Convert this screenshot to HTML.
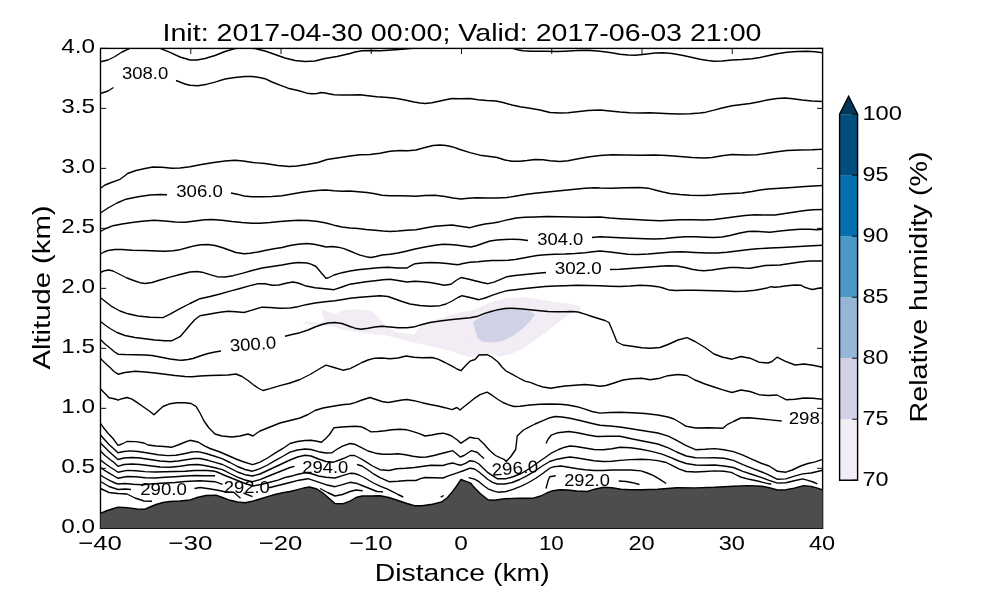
<!DOCTYPE html>
<html><head><meta charset="utf-8"><title>Init: 2017-04-30 00:00; Valid: 2017-06-03 21:00</title>
<style>html,body{margin:0;padding:0;background:#fff;}svg{display:block;will-change:transform;}text{font-family:"Liberation Sans", sans-serif;fill:#000;}</style>
</head><body>
<svg width="1000" height="600" viewBox="0 0 1000 600">
<rect x="0" y="0" width="1000" height="600" fill="#ffffff"/>
<defs><clipPath id="ax"><rect x="100.5" y="48.4" width="722.1" height="479.9"/></clipPath></defs>
<g clip-path="url(#ax)">
<polygon points="321.2,308.9 328.4,311.6 334.8,314.0 342.8,310.5 354.0,308.9 365.2,310.0 373.0,312.0 378.0,317.0 383.0,322.5 387.0,326.5 390.0,329.0 398.0,332.5 410.0,334.0 415.5,334.0 417.0,330.0 420.0,327.0 426.0,322.5 440.0,318.5 455.0,314.0 460.0,312.0 470.0,311.0 478.0,308.0 490.0,302.5 505.0,298.2 525.0,297.0 540.0,299.5 555.0,302.0 570.0,303.7 580.0,306.2 581.0,309.5 570.0,313.7 560.0,321.2 547.5,331.2 535.0,340.0 522.5,348.7 510.0,354.5 500.0,356.2 490.0,354.5 480.0,355.5 470.0,357.0 460.0,354.5 450.0,350.8 438.8,347.9 426.0,345.2 411.6,342.0 398.8,338.8 386.0,335.6 370.0,334.0 357.2,331.9 342.8,329.7 331.6,326.0 324.4,321.2 322.8,315.6" fill="#f2ecf5"/>
<polygon points="301.0,324.0 308.0,321.5 318.0,323.0 324.5,321.2 331.6,326.0 322.0,325.5 310.0,324.5" fill="#f2ecf5"/>
<polygon points="473.0,322.0 480.0,317.5 485.0,313.7 495.0,310.5 505.0,308.7 520.0,309.5 530.0,311.2 535.0,314.2 530.0,321.2 522.5,328.7 512.5,336.2 502.5,340.7 492.5,342.5 482.5,341.7 478.0,338.7 475.0,330.0" fill="#d0d1e6"/>
<circle cx="470" cy="336.7" r="0.6" fill="#d0d1e6"/>
<g fill="none" stroke="#000" stroke-width="1.39" stroke-linejoin="round" stroke-linecap="butt">
<polyline points="100.5,61.7 108.0,60.0 115.0,56.5 122.0,52.0 130.0,48.3 145.0,44.0 160.0,48.3 170.0,52.3 180.0,57.0 190.0,60.0 197.0,60.0 205.0,58.5 215.0,55.5 225.0,51.5 235.0,48.5 245.0,47.8 255.0,48.5 265.0,51.0 275.0,54.5 285.0,58.0 295.0,60.5 305.0,61.5 315.0,61.0 325.0,58.5 337.0,56.5 350.0,53.5 355.0,52.0 362.0,50.7 372.0,50.5 380.0,50.7 392.0,50.0 402.0,49.2 410.0,48.5 415.0,48.0 460.0,45.0 512.5,48.3 517.0,49.7 523.0,50.7 532.0,51.2 545.0,51.2 557.0,51.5 565.0,51.2 577.0,50.5 588.0,50.2 600.0,51.2 610.0,52.5 620.0,54.2 628.0,55.0 635.0,55.2 645.0,54.2 655.0,53.0 663.0,52.7 672.0,53.5 682.0,55.2 690.0,57.0 700.0,59.2 708.0,60.5 714.0,61.2 722.0,61.0 732.0,60.0 742.0,59.5 752.0,58.7 760.0,57.5 768.0,55.7 777.0,53.7 787.0,52.2 797.0,51.5 807.0,51.2 815.0,51.7 822.5,52.7"/>
<polyline points="100.5,93.5 108.0,91.0 113.5,87.5"/>
<polyline points="176.0,80.5 185.0,84.0 190.0,85.2 198.0,85.7 207.0,84.2 215.0,82.2 225.0,79.0 235.0,77.5 245.0,76.5 252.0,76.5 258.0,77.2 265.0,78.7 272.0,82.0 280.0,85.2 288.0,88.2 298.0,90.5 307.0,93.2 312.0,93.7 317.0,93.5 321.0,92.5 325.0,93.0 334.0,94.7 342.0,95.0 350.0,95.0 360.0,94.7 368.0,95.7 377.0,96.7 388.0,97.5 397.0,98.5 405.0,100.0 414.0,102.0 420.0,103.0 425.0,103.5 432.0,102.7 440.0,101.0 447.0,99.5 452.0,98.5 460.0,98.7 470.0,98.5 478.0,99.7 487.0,100.5 496.0,101.0 503.0,102.5 512.0,105.0 520.0,106.7 530.0,108.2 540.0,110.0 550.0,112.5 560.0,113.0 568.0,112.7 577.0,111.7 588.0,110.5 600.0,110.0 610.0,111.0 620.0,112.0 630.0,112.7 640.0,113.0 650.0,112.7 660.0,113.2 670.0,113.7 680.0,114.0 690.0,113.7 700.0,113.0 706.0,112.2 714.0,110.2 722.0,108.0 732.0,105.7 742.0,104.5 750.0,103.5 758.0,102.0 767.0,100.0 777.0,98.5 785.0,98.0 793.0,98.7 802.0,100.0 812.0,101.0 822.5,101.5"/>
<polyline points="100.5,188.3 105.0,185.0 110.0,183.0 120.0,179.3 124.5,176.0 127.5,173.5 136.0,170.5 145.0,168.5 153.0,167.0 162.0,167.2 172.0,168.2 180.0,168.0 190.0,166.7 200.0,164.7 212.0,162.7 225.0,161.0 235.0,160.2 243.0,161.0 253.0,162.5 265.0,163.5 278.0,165.5 289.0,166.5 297.0,166.0 307.0,164.5 318.0,162.5 327.0,159.5 337.0,158.0 350.0,156.0 360.0,154.7 370.0,154.5 380.0,153.2 390.0,151.2 400.0,150.5 408.0,150.7 416.0,150.0 425.0,147.5 433.0,145.5 440.0,145.0 446.0,145.5 452.0,146.7 460.0,149.5 470.0,152.7 480.0,155.2 490.0,156.5 497.0,157.5 505.0,160.0 512.0,161.2 520.0,161.2 527.0,160.5 535.0,159.5 543.0,159.7 550.0,160.7 560.0,161.5 568.0,160.7 577.0,159.0 588.0,157.0 600.0,155.5 612.0,154.7 625.0,155.0 640.0,155.2 655.0,155.0 667.0,155.5 680.0,156.5 692.0,157.5 704.0,158.0 712.0,157.5 722.0,155.7 732.0,154.5 745.0,155.0 757.0,154.7 767.0,153.2 777.0,151.7 787.0,150.5 800.0,150.0 812.0,149.7 822.5,149.2"/>
<polyline points="100.5,213.0 108.0,208.0 117.0,203.0 126.0,199.2 138.0,196.7 150.0,195.0 160.0,194.5 167.0,194.7"/>
<polyline points="231.0,193.0 237.0,194.2 244.0,196.0 252.0,196.7 262.0,196.7 272.0,196.5 282.0,195.7 292.0,194.0 302.0,192.2 312.0,191.0 320.0,190.2 326.0,190.0 334.0,190.7 342.0,191.2 350.0,191.0 358.0,191.7 367.0,192.5 375.0,193.7 382.0,195.2 390.0,195.7 400.0,195.7 410.0,196.0 416.0,196.2 425.0,195.5 435.0,195.2 445.0,196.5 453.0,198.0 461.0,199.0 468.0,198.2 477.0,197.7 487.0,198.0 497.0,198.0 507.0,197.5 515.0,196.2 525.0,194.5 535.0,193.2 545.0,192.2 555.0,191.2 565.0,190.2 575.0,189.2 585.0,188.2 595.0,187.7 600.0,188.0 612.0,188.2 625.0,187.7 640.0,187.5 648.0,188.2 655.0,190.0 663.0,192.0 670.0,193.5 680.0,194.5 690.0,195.2 704.0,195.5 712.0,195.0 722.0,194.0 732.0,193.5 742.0,193.0 752.0,191.5 760.0,190.0 768.0,189.0 780.0,188.2 792.0,187.5 805.0,186.5 822.5,185.5"/>
<polyline points="100.5,231.5 106.0,228.5 113.0,225.7 122.0,224.0 132.0,222.5 142.0,221.2 154.0,220.2 165.0,221.0 175.0,222.0 185.0,222.2 195.0,221.0 205.0,219.7 212.0,219.5 222.0,220.2 232.0,221.5 242.0,222.5 252.0,223.2 260.0,223.2 270.0,222.5 280.0,221.5 290.0,220.7 298.0,220.2 308.0,220.5 318.0,221.5 326.0,223.0 334.0,225.2 342.0,227.0 350.0,228.0 358.0,228.5 366.0,229.5 375.0,230.2 383.0,231.0 390.0,231.5 398.0,231.0 407.0,230.2 416.0,229.7 425.0,228.0 435.0,226.2 445.0,225.5 452.0,225.0 460.0,226.2 470.0,227.7 478.0,225.5 485.0,224.0 493.0,223.0 500.0,221.7 508.0,219.7 516.0,218.0 525.0,217.2 535.0,217.0 547.0,216.5 560.0,216.7 572.0,217.0 585.0,217.2 600.0,217.0 610.0,218.0 620.0,218.7 635.0,219.5 648.0,220.2 660.0,220.7 670.0,220.2 680.0,219.7 692.0,219.7 704.0,220.0 714.0,219.5 724.0,218.2 735.0,216.7 745.0,215.5 755.0,214.7 765.0,215.0 775.0,215.0 785.0,213.5 795.0,212.0 805.0,210.5 813.0,209.7 822.5,209.5"/>
<polyline points="100.5,254.0 104.0,252.0 108.0,250.5 115.0,249.5 122.0,249.5 132.0,250.2 145.0,250.5 157.0,251.0 165.0,251.2 173.0,250.7 180.0,249.7 188.0,247.5 195.0,245.7 201.0,244.7 208.0,244.5 215.0,245.5 222.0,247.5 229.0,250.0 236.0,252.5 244.0,253.7 250.0,253.2 258.0,252.0 266.0,250.2 274.0,248.7 282.0,247.5 290.0,245.5 298.0,244.2 307.0,243.5 314.0,244.2 320.0,245.5 326.0,247.0 332.0,246.5 338.0,247.2 344.0,248.7 350.0,251.0 355.0,253.2 360.0,255.2 366.0,256.7 371.0,257.5 376.0,256.5 382.0,255.0 390.0,254.2 398.0,253.0 406.0,251.2 415.0,249.0 425.0,247.0 435.0,245.2 443.0,244.2 450.0,244.5 458.0,245.2 465.0,246.2 471.0,247.0 477.0,245.5 484.0,243.0 490.0,241.0 497.0,240.0 505.0,239.5 513.0,239.2 520.0,239.5 528.0,240.5"/>
<polyline points="592.0,237.5 600.0,236.7 610.0,237.2 620.0,237.7 632.0,238.2 645.0,238.7 655.0,239.0 665.0,238.5 675.0,237.5 685.0,236.7 695.0,236.7 705.0,237.2 714.0,237.5 722.0,237.0 730.0,235.5 740.0,233.0 748.0,231.5 755.0,231.2 762.0,231.7 770.0,232.2 780.0,231.0 790.0,230.0 800.0,229.2 810.0,229.2 817.0,229.7 822.5,229.2"/>
<polyline points="100.5,272.5 104.5,270.7 109.0,270.0 113.0,271.0 120.0,274.5 127.0,278.0 135.0,281.0 140.0,282.7 145.0,283.5 152.0,282.5 160.0,280.0 170.0,277.2 180.0,274.5 190.0,272.0 197.0,271.5 202.0,272.2 210.0,274.7 217.0,276.7 225.0,277.0 233.0,275.7 243.0,273.2 252.0,270.5 262.0,268.0 272.0,266.5 282.0,265.0 290.0,263.5 298.0,262.5 307.0,263.0 311.0,264.2 316.0,266.5 321.0,272.5 326.0,278.2 328.0,278.0 334.0,275.0 342.0,272.7 350.0,271.0 358.0,269.7 368.0,268.7 378.0,267.7 388.0,267.2 398.0,268.0 407.0,268.0 411.0,265.7 415.0,263.7 422.0,263.0 430.0,262.5 438.0,262.7 447.0,263.5 453.0,264.2 458.0,264.7 463.0,263.5 470.0,262.2 478.0,261.7 485.0,261.0 492.0,260.5 500.0,260.5 508.0,260.2 515.0,259.5 522.0,258.2 530.0,256.7 537.0,255.5 545.0,254.7 555.0,254.2 565.0,254.0 575.0,253.5 585.0,252.7 593.0,251.7 600.0,251.0 610.0,252.0 620.0,253.2 628.0,254.2 638.0,254.5 648.0,254.0 660.0,253.0 672.0,252.0 682.0,251.7 695.0,252.5 707.0,253.0 717.0,253.0 727.0,252.2 737.0,251.0 747.0,249.7 757.0,248.7 770.0,248.0 782.0,247.5 795.0,246.7 808.0,246.0 822.5,245.2"/>
<polyline points="100.5,297.7 105.0,301.2 112.0,306.7 120.0,311.0 128.0,313.8 138.0,316.0 150.0,317.3 163.0,317.6 170.0,314.2 180.0,308.7 190.0,303.5 200.0,298.7 210.0,296.5 220.0,294.0 230.0,291.2 240.0,288.5 250.0,285.7 258.0,283.7 265.0,283.7 272.0,285.2 279.0,285.0 287.0,283.0 293.0,282.0 298.0,283.0 305.0,285.7 315.0,287.7 325.0,288.7 334.0,289.7 342.0,287.0 350.0,284.2 358.0,283.0 366.0,281.7 375.0,280.7 383.0,279.7 390.0,279.2 398.0,280.5 407.0,282.0 415.0,281.2 423.0,281.7 430.0,282.5 437.0,283.7 444.0,285.2 451.0,284.2 456.0,280.5 461.0,277.5 468.0,279.0 475.0,280.7 482.0,282.5 488.0,283.7 494.0,282.2 500.0,279.7 507.0,276.7 515.0,275.5 525.0,274.5 535.0,273.5 546.0,272.5"/>
<polyline points="610.0,269.5 620.0,269.2 630.0,268.5 640.0,267.7 650.0,267.0 660.0,266.2 668.0,265.7 677.0,266.0 685.0,267.5 692.0,269.2 698.0,270.2 704.0,270.7 712.0,270.0 720.0,268.7 730.0,267.5 737.0,267.5 744.0,268.0 750.0,268.2 757.0,267.0 765.0,265.5 773.0,265.2 780.0,265.0 790.0,263.5 800.0,262.0 810.0,261.0 822.5,261.0"/>
<polyline points="100.5,321.5 105.0,325.0 110.0,328.5 117.0,332.5 125.0,335.5 135.0,337.5 145.0,338.7 155.0,340.0 165.0,340.7 172.0,340.7 180.0,336.7 185.0,331.0 190.0,325.0 195.0,319.5 200.0,315.7 210.0,314.0 220.0,312.2 228.0,311.2 236.0,311.7 244.0,312.5 252.0,310.2 262.0,307.2 270.0,307.5 280.0,308.2 290.0,308.0 298.0,306.7 306.0,304.7 315.0,303.0 325.0,301.7 335.0,300.7 343.0,299.5 350.0,298.3 360.0,297.2 370.0,296.5 380.0,295.7 388.0,296.5 395.0,299.0 402.0,301.5 410.0,304.0 420.0,305.5 430.0,306.2 440.0,305.7 446.0,304.0 452.0,301.0 458.0,297.5 462.0,295.7 468.0,297.0 474.0,298.5 479.0,299.7 485.0,298.0 492.0,295.3 500.0,292.6 507.0,290.7 515.0,289.7 525.0,288.5 535.0,287.5 545.0,286.5 555.0,286.0 565.0,285.7 577.0,285.2 588.0,285.5 600.0,285.7 610.0,286.2 620.0,286.5 630.0,286.0 640.0,285.2 650.0,285.7 658.0,286.7 663.0,288.0 668.0,289.7 675.0,290.5 685.0,290.2 695.0,290.2 705.0,290.5 715.0,290.7 725.0,291.0 735.0,291.5 745.0,291.2 755.0,290.2 762.0,289.0 768.0,287.7 771.0,286.7 775.0,287.2 780.0,286.7 787.0,285.7 795.0,285.0 801.0,285.2 804.0,287.0 809.0,288.7 813.0,289.5 817.0,288.5 822.5,287.7"/>
<polyline points="100.5,339.5 105.0,344.0 110.0,348.0 114.0,351.5 118.0,354.2 125.0,354.5 135.0,354.7 145.0,355.0 152.0,355.5 160.0,357.0 170.0,359.0 178.0,360.0 182.0,360.2 188.0,359.5 193.0,358.5 200.0,356.0 208.0,353.5 215.0,352.0 221.0,351.0"/>
<polyline points="285.0,336.2 292.0,334.5 300.0,332.7 308.0,330.0 315.0,327.0 322.0,324.5 328.0,323.0 335.0,322.5 342.0,323.5 350.0,326.5 355.0,328.2 361.0,329.2 368.0,328.2 375.0,327.0 382.0,326.2 390.0,327.0 398.0,327.7 407.0,327.7 415.0,326.7 422.0,324.5 430.0,322.5 440.0,321.0 450.0,319.7 460.0,318.7 470.0,317.7 478.0,316.2 484.0,313.7 491.0,311.5 498.0,309.7 505.0,308.5 512.0,308.2 520.0,308.7 530.0,309.7 540.0,310.7 548.0,311.5 555.0,311.7 565.0,311.7 572.0,311.5 578.0,312.0 585.0,314.2 592.0,316.5 600.0,319.0 605.0,320.5 609.0,322.5 613.0,332.0 617.0,342.0 623.0,345.0 632.0,346.2 642.0,347.7 650.0,348.2 660.0,347.5 668.0,344.5 678.0,340.0 687.0,337.7 695.0,341.5 705.0,347.5 714.0,354.0 722.0,357.0 732.0,359.2 741.0,356.5 750.0,358.2 759.0,362.2 768.0,363.0 772.0,361.5 777.0,357.2 785.0,361.2 795.0,365.0 804.0,364.0 813.0,365.2 822.5,367.2"/>
<polyline points="100.5,358.5 105.0,363.0 110.0,367.5 114.0,371.5 118.0,374.2 125.0,372.5 135.0,371.2 145.0,372.0 155.0,373.0 165.0,374.2 175.0,375.5 185.0,376.5 192.0,376.7 200.0,376.0 210.0,375.5 220.0,375.2 228.0,375.0 236.0,374.0 242.0,376.5 248.0,380.5 253.0,384.5 258.0,388.0 263.0,390.5 270.0,388.7 280.0,385.7 290.0,383.0 300.0,379.5 310.0,374.5 320.0,368.5 326.0,365.2 334.0,367.5 343.0,370.2 350.0,368.6 355.0,366.2 362.0,362.5 368.0,360.0 375.0,358.2 382.0,358.0 390.0,358.7 398.0,358.0 406.0,356.0 414.0,357.2 422.0,357.7 432.0,357.5 438.0,359.2 445.0,362.5 452.0,366.2 457.0,369.0 461.0,370.7 465.0,366.2 470.0,361.2 475.0,359.5 479.0,355.0 487.0,354.7 492.0,357.2 498.0,362.0 502.0,367.0 506.0,371.0 512.0,374.2 518.0,377.5 525.0,381.2 531.0,382.7 537.0,385.2 543.0,387.0 551.0,388.2 558.0,387.0 565.0,386.0 575.0,385.2 585.0,384.5 593.0,385.2 600.0,386.3 606.0,385.5 614.0,383.0 623.0,380.0 632.0,378.7 642.0,378.2 650.0,379.7 660.0,378.2 668.0,375.7 678.0,374.5 687.0,375.5 695.0,380.0 705.0,384.0 714.0,387.0 722.0,389.7 732.0,392.5 741.0,390.0 750.0,391.5 759.0,394.7 768.0,395.5 777.0,395.0 780.0,396.5 786.0,399.7 795.0,399.2 804.0,398.0 813.0,398.2 822.5,399.2"/>
<polyline points="100.5,389.0 104.0,392.5 109.0,397.7 113.0,398.5 116.0,399.2 118.0,400.2 122.0,398.7 127.0,397.5 132.0,399.2 138.0,403.2 145.0,408.0 150.0,411.5 154.0,414.7 158.0,411.0 163.0,406.5 170.0,403.7 177.0,402.7 185.0,402.7 191.0,403.5 196.0,406.4 200.0,413.0 204.0,421.0 209.0,428.0 215.0,434.0 222.0,436.0 232.0,437.0 240.0,436.0 248.0,434.0 253.0,436.0 257.0,433.0 260.0,431.0 270.0,427.0 280.0,423.0 290.0,420.5 300.0,418.0 308.0,414.5 315.0,410.5 323.0,408.0 333.0,406.2 342.0,404.7 350.0,404.0 355.0,402.7 362.0,400.0 370.0,397.5 376.0,399.5 382.0,401.5 388.0,402.5 395.0,401.2 402.0,400.0 407.0,399.5 414.0,400.7 422.0,402.7 430.0,404.5 438.0,406.0 445.0,407.7 452.0,409.7 457.0,407.5 460.0,410.0 463.0,407.5 468.0,403.5 474.0,398.7 480.0,394.7 487.0,392.2 492.0,395.2 498.0,399.5 503.0,402.5 508.0,404.7 514.0,406.5 520.0,406.2 530.0,405.0 540.0,404.2 550.0,404.0 560.0,404.2 568.0,405.0 577.0,406.7 585.0,409.2 592.0,411.5 600.0,413.1 610.0,412.5 620.0,412.2 632.0,412.7 645.0,413.5 657.8,415.0 668.0,417.0 674.0,419.0 680.0,422.5 686.2,426.3 695.6,428.0 709.3,427.7 722.9,428.3 727.1,424.7 733.4,421.5 740.7,418.0 749.1,417.7 759.6,418.8 770.1,419.9 781.7,421.0"/>
<polyline points="100.5,423.3 104.0,428.3 108.0,433.3 113.0,438.5 118.0,445.3 122.0,444.0 127.0,441.5 136.0,441.6 144.0,443.0 148.0,445.0 156.0,446.0 164.0,446.5 172.0,447.2 178.0,445.0 184.0,442.5 190.0,440.3 198.0,442.0 204.0,445.7 210.0,448.5 220.0,452.0 228.0,455.5 236.0,459.0 244.0,462.0 252.5,464.7 260.0,462.2 267.5,458.0 275.0,453.2 282.5,448.7 290.0,443.5 297.5,441.5 305.0,440.5 311.0,440.2 317.0,441.2 321.5,442.3 326.0,438.2 329.5,434.5 334.0,427.7 342.0,427.0 350.0,426.5 355.0,426.2 361.0,426.7 366.0,429.0 371.0,431.9 378.0,431.5 385.0,430.7 392.0,429.7 400.0,429.2 407.0,429.8 414.0,431.8 420.0,433.9 425.0,436.0 432.0,435.0 438.0,433.8 443.0,433.2 448.0,434.5 452.0,436.2 458.0,440.5 461.0,443.2 465.5,440.2 470.0,437.2 474.5,438.2 478.2,438.4 483.5,443.5 489.5,450.2 495.5,455.5 500.0,457.7 504.0,459.3 506.2,461.5 510.5,457.0 515.7,449.5 517.2,436.0 520.5,432.7 523.5,430.0 528.0,427.7 535.0,424.0 543.0,420.7 550.0,417.7 555.0,416.5 562.0,417.0 570.0,418.2 580.0,420.5 590.0,423.0 600.0,425.3 610.0,426.0 620.0,427.0 632.6,429.0 645.2,431.0 657.8,433.0 668.3,436.2 676.7,440.4 686.2,445.7 695.6,449.7 705.0,449.3 714.5,448.6 724.0,449.7 733.4,451.6 742.9,455.1 752.3,459.3 761.8,463.5 769.1,466.0 777.5,471.3 785.9,472.2 792.2,470.0 800.6,466.0 807.9,463.5 815.3,461.9 822.5,459.3"/>
<polyline points="100.5,435.0 104.0,439.0 109.0,444.5 114.0,449.0 118.0,452.8 124.0,451.5 130.0,450.9 138.0,451.5 148.0,453.0 158.0,454.7 168.0,455.6 176.0,455.3 184.0,453.7 192.0,452.0 198.0,451.6 206.0,453.5 214.0,456.0 222.0,458.7 230.0,462.5 237.5,466.5 245.0,469.5 252.5,471.2 260.0,468.7 267.5,465.0 275.0,460.7 282.5,456.5 290.0,452.2 297.5,450.0 305.0,449.0 311.0,449.5 318.5,451.7 326.0,453.0 332.0,452.8 336.5,449.5 342.5,446.2 350.0,443.5 354.5,444.2 360.5,447.2 368.0,451.0 375.5,453.2 383.0,454.3 390.5,454.3 398.0,453.7 405.5,454.7 413.0,456.2 420.5,457.3 426.5,457.0 434.0,455.5 441.5,453.5 447.5,452.0 452.7,450.7 456.5,453.7 460.2,457.0 464.0,455.5 468.5,452.5 471.5,450.7 477.5,452.5 480.5,455.5 484.2,458.5"/>
<polyline points="546.0,443.5 548.2,439.0 551.2,435.2 558.0,432.7 568.5,431.5 577.5,432.7 588.0,435.0 597.0,436.5 609.0,436.3 620.0,436.2 632.6,439.0 645.2,441.5 657.8,444.0 668.3,447.8 676.7,452.0 686.2,456.0 695.6,457.7 705.0,457.9 714.5,457.7 724.0,458.3 733.4,460.4 742.9,464.6 752.3,468.4 761.8,472.0 769.1,475.1 777.5,479.3 785.9,478.9 794.3,476.2 802.7,473.9 811.1,473.0 817.4,471.5 822.5,470.3"/>
<polyline points="100.5,443.0 104.0,446.5 109.0,451.5 114.0,456.0 118.0,459.5 124.0,458.0 132.0,457.5 140.0,458.0 150.0,459.5 160.0,461.0 170.0,461.8 178.0,461.0 186.0,459.7 194.0,458.5 200.0,458.5 208.0,460.3 216.0,462.7 222.5,464.5 230.0,468.2 237.5,472.0 245.0,474.7 252.5,476.0 260.0,474.0 267.5,470.5 275.0,467.0 282.5,463.5 290.0,460.0 297.5,457.0 305.0,455.2 311.0,456.0 318.5,459.0 326.0,461.5 333.5,462.2 339.5,460.0 345.5,457.7 350.0,455.5 354.5,455.5 360.5,458.5 366.5,462.2 372.5,466.0 380.0,469.7 389.0,470.5 396.5,468.7 405.5,468.2 414.5,467.5 423.5,466.3 431.0,465.2 443.0,465.5 449.0,463.7 452.7,463.0 456.5,464.2 461.0,465.2 465.5,463.3 470.0,460.7 474.5,461.5 479.0,464.0 483.0,468.0 488.0,472.7 492.5,475.7 497.2,478.7 506.2,478.7 513.7,476.5 521.2,473.5 528.7,469.0 536.2,463.7 543.7,458.5 551.2,453.2 558.7,449.5 564.7,447.2 570.0,446.0 576.0,446.5 585.0,448.0 594.0,449.5 603.0,449.8 612.0,448.7 620.0,447.2 630.5,447.8 641.0,449.3 651.5,451.4 662.0,454.1 670.4,457.3 678.8,461.0 686.2,463.5 695.6,465.0 705.0,465.2 714.5,465.0 724.0,466.0 733.4,467.5 742.9,471.3 752.3,474.5 761.8,477.6 769.1,480.3 777.5,483.1 785.9,482.7 794.3,480.8 802.7,478.9 807.9,480.3 813.2,482.0 817.4,483.9"/>
<polyline points="100.5,451.0 105.0,455.5 110.0,459.5 114.0,462.5 118.0,466.3 124.0,464.5 132.0,464.0 140.0,464.5 150.0,465.7 160.0,467.0 170.0,467.3 180.0,466.3 190.0,464.8 198.0,464.5 206.0,465.7 214.0,467.5 222.5,469.7 230.0,473.5 237.5,477.2 245.0,480.0 252.5,481.7 260.0,479.7 267.5,476.5 275.0,473.5 282.5,470.5 290.0,467.5 294.5,466.3"/>
<polyline points="357.0,464.5 362.0,466.0 368.0,470.0 374.0,474.2 380.0,477.7 389.0,481.7 398.0,481.3 407.0,480.5 416.0,480.5 420.5,478.7 425.0,477.5 434.0,477.7 443.0,478.0 449.0,475.7 453.5,474.2 458.0,472.7 464.0,470.5 470.0,468.2 474.5,469.0 479.0,472.0 483.5,475.7 488.0,479.5 492.5,482.3 497.2,484.0 504.7,484.0 512.2,482.5 519.7,479.5 527.2,475.7 534.7,471.2 542.2,466.0 549.7,461.5 557.2,459.2 564.7,457.7 570.0,457.0 577.5,458.0 585.0,459.2 594.0,460.7 603.0,461.5 612.0,461.2 620.0,460.4 630.5,459.6 641.0,459.3 649.4,459.6 657.8,460.6 666.2,462.5 672.5,465.7 678.8,468.8 686.2,471.5 695.6,472.0 705.0,471.5 714.5,470.9 724.0,471.3 731.3,472.4 735.5,474.5 740.7,477.0 749.1,479.3 757.5,481.0 765.9,483.1 771.2,484.3"/>
<polyline points="100.5,460.0 105.0,463.5 110.0,467.0 114.0,469.5 118.0,472.3 127.0,470.4 136.0,470.7 145.0,471.6 155.0,472.0 165.0,471.8 175.0,471.5 185.0,471.3 195.0,470.5 200.0,470.5 207.5,470.5 215.0,471.3 217.0,472.0 225.0,475.5 235.0,479.5 245.0,483.5 253.0,486.0 261.0,484.5 269.0,482.5 278.0,480.2 285.0,477.5 293.0,475.7 299.0,474.0 305.0,472.7 311.0,473.5 318.5,476.0 326.0,477.2 335.0,478.0 342.5,475.7 350.0,473.3 354.5,473.5 359.0,475.0 365.0,478.0 372.5,482.5 380.0,486.2 387.5,489.2 393.5,492.2 398.0,494.5 403.2,497.0"/>
<polyline points="100.5,467.5 105.0,470.7 110.0,473.7 114.0,476.0 118.0,478.3 127.0,476.5 136.0,476.7 145.0,477.8 155.0,478.0 165.0,477.3 175.0,476.7 185.0,476.0 195.0,475.5 205.0,475.8 215.0,475.8"/>
<polyline points="100.5,475.0 105.0,478.0 110.0,480.7 115.0,483.0 118.0,484.0 125.0,483.5 133.0,484.2 142.0,484.7 150.0,484.0 165.0,483.0 175.0,482.5 185.0,481.5 200.0,480.7 207.5,481.2 215.0,481.7 222.5,484.3"/>
<polyline points="269.0,487.7 278.0,485.5 290.0,482.5 299.0,480.2 308.0,478.7 317.0,481.7 326.0,484.7 335.0,486.7 342.5,484.7 350.0,482.3 356.0,483.2 362.0,485.5 369.5,488.5 377.0,491.5 383.0,491.8"/>
<polyline points="100.5,481.5 109.0,486.5 118.0,489.5 125.0,489.0 131.0,489.5"/>
<polyline points="194.5,488.5 200.0,487.5 209.0,488.7 218.0,490.3 224.7,491.7 229.0,492.0 233.7,492.2 240.5,498.2"/>
<polyline points="243.5,493.0 252.5,496.7"/>
<polyline points="100.5,488.5 109.0,492.5 118.0,493.5 127.0,494.0 135.0,498.0 144.0,501.0 152.0,501.2"/>
<polyline points="320.0,488.5 327.5,492.5 335.0,496.0 342.5,494.5 350.0,491.5 356.0,490.0 362.7,490.7"/>
<polyline points="468.5,477.7 474.5,479.2 479.0,481.7 483.5,485.5 488.0,488.8 494.0,491.2 498.0,492.2 506.2,491.5 513.7,489.2 521.2,486.2 528.7,482.5 536.2,478.0 543.7,472.7 549.7,468.2 554.2,466.7 561.0,466.0 570.0,467.5 577.5,468.7 585.0,469.7 594.0,470.5 603.0,470.5 612.0,470.0 620.0,470.0 630.5,470.0 641.0,470.9 647.3,473.0 653.6,475.7 659.9,479.3 666.2,483.5"/>
<polyline points="546.0,488.5 548.2,480.2 549.7,476.8 555.7,475.7"/>
<polyline points="618.7,481.0 626.3,481.5 632.6,482.7 639.5,484.5"/>
<polyline points="440.7,497.2 443.7,495.5"/>
</g>
<text x="122.0" y="78.5" font-size="17.3" textLength="46.3" lengthAdjust="spacingAndGlyphs">308.0</text>
<text x="176.2" y="196.7" font-size="17.3" textLength="46.6" lengthAdjust="spacingAndGlyphs">306.0</text>
<text x="537.2" y="245.0" font-size="17.3" textLength="46.1" lengthAdjust="spacingAndGlyphs">304.0</text>
<text x="554.7" y="274.0" font-size="17.3" textLength="47.1" lengthAdjust="spacingAndGlyphs">302.0</text>
<text x="229.7" y="350.0" font-size="17.3" textLength="46.6" lengthAdjust="spacingAndGlyphs" transform="rotate(-4.0 253.0 344.0)">300.0</text>
<text x="788.7" y="424.3" font-size="17.3" textLength="46.6" lengthAdjust="spacingAndGlyphs">298.0</text>
<text x="140.2" y="495.0" font-size="17.3" textLength="46.6" lengthAdjust="spacingAndGlyphs">290.0</text>
<text x="223.7" y="493.0" font-size="17.3" textLength="46.1" lengthAdjust="spacingAndGlyphs">292.0</text>
<text x="302.2" y="472.7" font-size="17.3" textLength="46.1" lengthAdjust="spacingAndGlyphs">294.0</text>
<text x="491.7" y="474.0" font-size="17.3" textLength="46.6" lengthAdjust="spacingAndGlyphs" transform="rotate(-4.5 515.0 468.0)">296.0</text>
<text x="564.2" y="486.2" font-size="17.3" textLength="45.6" lengthAdjust="spacingAndGlyphs">292.0</text>
</g>
<g stroke="#000" stroke-width="0.95" fill="none">
<line x1="100.50" y1="48.4" x2="100.50" y2="54.0"/>
<line x1="100.5" y1="48.40" x2="106.1" y2="48.40"/>
<line x1="822.6" y1="48.40" x2="817.0" y2="48.40"/>
<line x1="190.75" y1="48.4" x2="190.75" y2="54.0"/>
<line x1="100.5" y1="108.39" x2="106.1" y2="108.39"/>
<line x1="822.6" y1="108.39" x2="817.0" y2="108.39"/>
<line x1="281.00" y1="48.4" x2="281.00" y2="54.0"/>
<line x1="100.5" y1="168.38" x2="106.1" y2="168.38"/>
<line x1="822.6" y1="168.38" x2="817.0" y2="168.38"/>
<line x1="371.25" y1="48.4" x2="371.25" y2="54.0"/>
<line x1="100.5" y1="228.37" x2="106.1" y2="228.37"/>
<line x1="822.6" y1="228.37" x2="817.0" y2="228.37"/>
<line x1="461.50" y1="48.4" x2="461.50" y2="54.0"/>
<line x1="100.5" y1="288.36" x2="106.1" y2="288.36"/>
<line x1="822.6" y1="288.36" x2="817.0" y2="288.36"/>
<line x1="551.75" y1="48.4" x2="551.75" y2="54.0"/>
<line x1="100.5" y1="348.35" x2="106.1" y2="348.35"/>
<line x1="822.6" y1="348.35" x2="817.0" y2="348.35"/>
<line x1="642.00" y1="48.4" x2="642.00" y2="54.0"/>
<line x1="100.5" y1="408.34" x2="106.1" y2="408.34"/>
<line x1="822.6" y1="408.34" x2="817.0" y2="408.34"/>
<line x1="732.25" y1="48.4" x2="732.25" y2="54.0"/>
<line x1="100.5" y1="468.33" x2="106.1" y2="468.33"/>
<line x1="822.6" y1="468.33" x2="817.0" y2="468.33"/>
<line x1="822.50" y1="48.4" x2="822.50" y2="54.0"/>
<line x1="100.5" y1="528.32" x2="106.1" y2="528.32"/>
<line x1="822.6" y1="528.32" x2="817.0" y2="528.32"/>
</g>
<rect x="100.5" y="48.4" width="722.1" height="479.9" fill="none" stroke="#000" stroke-width="1.39"/>
<g clip-path="url(#ax)">
<polygon points="98.5,514.2 100.5,513.3 106.0,511.0 112.0,509.0 118.0,507.2 127.0,507.6 137.0,509.0 145.0,509.2 150.0,507.0 156.0,504.5 163.0,502.5 170.0,501.5 180.0,501.0 190.0,500.0 196.0,497.8 206.0,495.5 216.0,495.2 222.5,497.5 230.0,500.3 237.5,502.0 245.0,502.8 252.5,501.2 260.0,499.0 267.5,496.7 275.0,494.5 282.5,492.7 290.0,491.5 297.5,489.7 305.0,487.7 309.5,487.0 317.0,489.0 323.0,493.0 329.0,498.2 335.0,503.5 342.5,503.8 350.0,501.2 356.0,497.5 362.0,496.0 371.0,496.0 380.0,495.7 389.0,497.5 398.0,500.5 407.0,503.5 414.5,505.7 422.0,505.7 432.5,504.2 441.5,502.0 447.5,497.5 452.0,492.2 456.5,486.2 461.0,479.5 466.0,481.3 470.7,483.2 475.2,488.5 480.5,493.7 488.0,499.7 494.0,500.2 504.7,498.7 518.2,498.2 533.2,498.2 540.7,496.0 546.7,493.0 552.7,490.7 560.2,489.7 567.7,490.0 576.7,491.0 587.2,491.5 594.7,489.2 603.7,487.3 612.0,487.7 621.0,489.2 630.5,489.8 641.0,489.8 657.8,489.2 676.7,487.7 695.6,487.9 714.5,487.3 733.4,486.2 748.1,485.6 761.8,486.2 769.1,487.7 777.5,490.0 785.9,489.8 794.3,488.1 803.7,485.6 811.1,486.4 817.4,488.1 824.6,490.5 824.6,531.3 98.5,531.3" fill="#4d4d4d" stroke="#000" stroke-width="1.39" stroke-linejoin="round"/>
</g>
<text x="100.10" y="549.6" font-size="21.0" text-anchor="middle" textLength="43.6" lengthAdjust="spacingAndGlyphs">−40</text>
<text x="190.35" y="549.6" font-size="21.0" text-anchor="middle" textLength="44.1" lengthAdjust="spacingAndGlyphs">−30</text>
<text x="280.60" y="549.6" font-size="21.0" text-anchor="middle" textLength="43.6" lengthAdjust="spacingAndGlyphs">−20</text>
<text x="370.85" y="549.6" font-size="21.0" text-anchor="middle" textLength="43.6" lengthAdjust="spacingAndGlyphs">−10</text>
<text x="461.10" y="549.6" font-size="21.0" text-anchor="middle" textLength="13.6" lengthAdjust="spacingAndGlyphs">0</text>
<text x="551.35" y="549.6" font-size="21.0" text-anchor="middle" textLength="24.9" lengthAdjust="spacingAndGlyphs">10</text>
<text x="641.60" y="549.6" font-size="21.0" text-anchor="middle" textLength="26.2" lengthAdjust="spacingAndGlyphs">20</text>
<text x="731.85" y="549.6" font-size="21.0" text-anchor="middle" textLength="26.2" lengthAdjust="spacingAndGlyphs">30</text>
<text x="822.10" y="549.6" font-size="21.0" text-anchor="middle" textLength="26.2" lengthAdjust="spacingAndGlyphs">40</text>
<text x="95.0" y="53.40" font-size="21.0" text-anchor="end" textLength="33.8" lengthAdjust="spacingAndGlyphs">4.0</text>
<text x="95.0" y="113.40" font-size="21.0" text-anchor="end" textLength="33.8" lengthAdjust="spacingAndGlyphs">3.5</text>
<text x="95.0" y="173.40" font-size="21.0" text-anchor="end" textLength="33.8" lengthAdjust="spacingAndGlyphs">3.0</text>
<text x="95.0" y="233.40" font-size="21.0" text-anchor="end" textLength="33.8" lengthAdjust="spacingAndGlyphs">2.5</text>
<text x="95.0" y="293.40" font-size="21.0" text-anchor="end" textLength="33.8" lengthAdjust="spacingAndGlyphs">2.0</text>
<text x="95.0" y="353.40" font-size="21.0" text-anchor="end" textLength="33.8" lengthAdjust="spacingAndGlyphs">1.5</text>
<text x="95.0" y="413.40" font-size="21.0" text-anchor="end" textLength="33.8" lengthAdjust="spacingAndGlyphs">1.0</text>
<text x="95.0" y="473.40" font-size="21.0" text-anchor="end" textLength="33.8" lengthAdjust="spacingAndGlyphs">0.5</text>
<text x="95.0" y="533.40" font-size="21.0" text-anchor="end" textLength="33.8" lengthAdjust="spacingAndGlyphs">0.0</text>
<text x="462.0" y="40.8" font-size="24.6" text-anchor="middle" textLength="599" lengthAdjust="spacingAndGlyphs">Init: 2017-04-30 00:00; Valid: 2017-06-03 21:00</text>
<text x="462.2" y="580.8" font-size="24.6" text-anchor="middle" textLength="175" lengthAdjust="spacingAndGlyphs">Distance (km)</text>
<text transform="translate(50.2 287.5) rotate(-90)" x="0" y="0" font-size="24.6" text-anchor="middle" textLength="164" lengthAdjust="spacingAndGlyphs">Altitude (km)</text>
<text transform="translate(927.3 287) rotate(-90)" x="0" y="0" font-size="24.6" text-anchor="middle" textLength="271" lengthAdjust="spacingAndGlyphs">Relative humidity (%)</text>
<rect x="839.6" y="114.20" width="18.0" height="61.30" fill="#034e7b"/>
<rect x="839.6" y="175.20" width="18.0" height="61.30" fill="#056faf"/>
<rect x="839.6" y="236.20" width="18.0" height="61.30" fill="#4a98c5"/>
<rect x="839.6" y="297.20" width="18.0" height="61.30" fill="#96b6d7"/>
<rect x="839.6" y="358.20" width="18.0" height="61.30" fill="#d0d1e6"/>
<rect x="839.6" y="419.20" width="18.0" height="61.30" fill="#f2ecf5"/>
<polygon points="839.6,114.2 848.6,96.3 857.6,114.2" fill="#023858"/>
<polygon points="839.6,480.2 839.6,114.2 848.6,96.3 857.6,114.2 857.6,480.2" fill="none" stroke="#000" stroke-width="1.39" stroke-linejoin="miter"/>
<g stroke="#000" stroke-width="0.95">
<line x1="852.2" y1="114.20" x2="857.9" y2="114.20"/>
<line x1="852.2" y1="175.20" x2="857.9" y2="175.20"/>
<line x1="852.2" y1="236.20" x2="857.9" y2="236.20"/>
<line x1="852.2" y1="297.20" x2="857.9" y2="297.20"/>
<line x1="852.2" y1="358.20" x2="857.9" y2="358.20"/>
<line x1="852.2" y1="419.20" x2="857.9" y2="419.20"/>
<line x1="852.2" y1="480.20" x2="857.9" y2="480.20"/>
</g>
<text x="862.4" y="119.60" font-size="21.0" textLength="39.6" lengthAdjust="spacingAndGlyphs">100</text>
<text x="862.4" y="180.60" font-size="21.0" textLength="26.0" lengthAdjust="spacingAndGlyphs">95</text>
<text x="862.4" y="241.60" font-size="21.0" textLength="26.0" lengthAdjust="spacingAndGlyphs">90</text>
<text x="862.4" y="302.60" font-size="21.0" textLength="26.0" lengthAdjust="spacingAndGlyphs">85</text>
<text x="862.4" y="363.60" font-size="21.0" textLength="26.0" lengthAdjust="spacingAndGlyphs">80</text>
<text x="862.4" y="424.60" font-size="21.0" textLength="26.0" lengthAdjust="spacingAndGlyphs">75</text>
<text x="862.4" y="485.60" font-size="21.0" textLength="26.0" lengthAdjust="spacingAndGlyphs">70</text>
</svg>
</body></html>
